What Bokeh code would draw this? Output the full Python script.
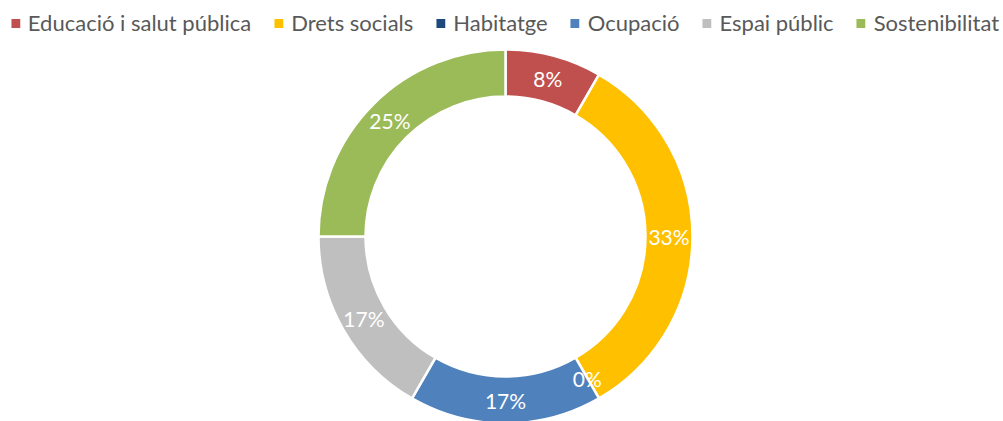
import math
from bokeh.plotting import figure
from bokeh.models import ColumnDataSource, Legend, LegendItem, Range1d, CDSView, IndexFilter
from bokeh.core.properties import value
from bokeh.embed import file_html
from bokeh.resources import INLINE

categories = ["Educació i salut pública", "Drets socials", "Habitatge", "Ocupació", "Espai públic", "Sostenibilitat"]
counts = [1, 4, 0, 2, 2, 3]
colors = ["#C0504D", "#FFC000", "#1F497D", "#4F81BD", "#BFBFBF", "#9BBB59"]

W, H = 1003, 421
cx, cy = 505, H - 236
r_out, r_in = 187, 140

total = sum(counts)
starts, ends, lx, ly, labels = [], [], [], [], []
cum = 0.0
for c in counts:
    frac0 = cum / total
    frac1 = (cum + c) / total
    a_end = math.pi / 2 - 2 * math.pi * frac0
    a_start = math.pi / 2 - 2 * math.pi * frac1
    starts.append(a_start)
    ends.append(a_end)
    mid = (a_start + a_end) / 2
    rm = (r_out + r_in) / 2
    lx.append(cx + rm * math.cos(mid))
    ly.append(cy + rm * math.sin(mid))
    labels.append(f"{round(100 * c / total)}%")
    cum += c

src = ColumnDataSource(dict(cat=categories, val=counts, color=colors, start=starts, end=ends,
                            lx=lx, ly=ly, label=labels, x=[cx] * 6, y=[cy] * 6))

p = figure(width=W, height=H, output_backend="svg", toolbar_location=None,
           x_range=Range1d(0, W), y_range=Range1d(0, H), min_border=0)
p.axis.visible = False
p.grid.visible = False
p.outline_line_color = None
p.background_fill_color = "white"
p.border_fill_color = "white"

nz = [i for i, c in enumerate(counts) if c > 0]
p.annular_wedge(x="x", y="y", inner_radius=r_in, outer_radius=r_out,
                start_angle="start", end_angle="end", fill_color="color",
                line_color="white", line_width=2.5, source=src,
                view=CDSView(filter=IndexFilter(nz)))

p.text(x="lx", y="ly", text="label", source=src, text_color="white",
       text_font=value("Lato"), text_font_size="21px",
       text_align="center", text_baseline="middle")

# legend markers (not drawn in the plot area)
leg_src = ColumnDataSource(dict(x=[float("nan")] * 6, y=[float("nan")] * 6, color=colors))
lr = p.scatter(x="x", y="y", marker="square", size=9, fill_color="color",
               line_color=None, source=leg_src)

items = [LegendItem(label=cat, renderers=[lr], index=i) for i, cat in enumerate(categories)]
legend = Legend(items=items, orientation="horizontal", location="top_center",
                label_text_font="Lato", label_text_font_size="22px",
                label_text_color="#595959", glyph_width=22, glyph_height=22,
                label_standoff=2, spacing=16, padding=0, margin=9,
                border_line_color=None, background_fill_alpha=0)
p.add_layout(legend, "center")

open("out.html", "w").write(file_html(p, INLINE))
